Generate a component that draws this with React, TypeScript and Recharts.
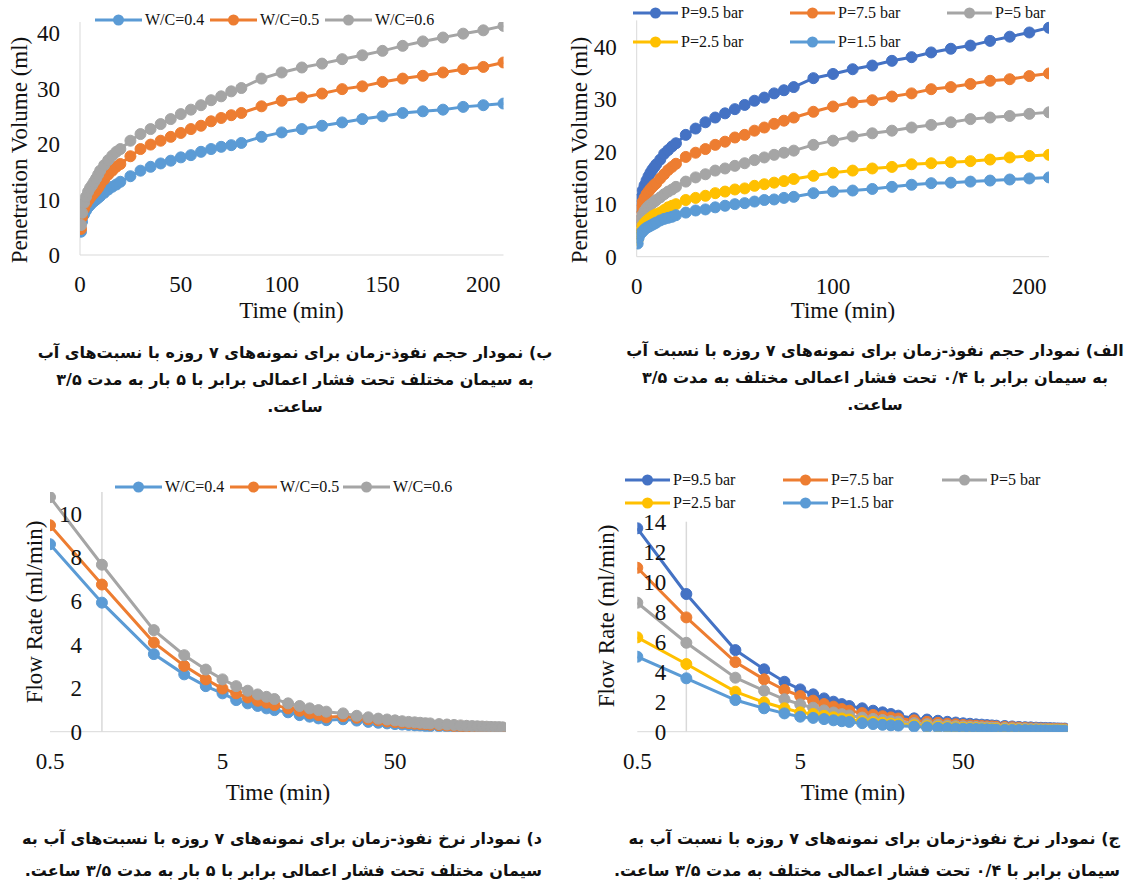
import React from "react";
import { LineChart, Line, XAxis, YAxis, ReferenceLine } from "recharts";

// sampling times (min) shared by all four panels
const timeMin = [
  0.5, 1, 2, 3, 4, 5, 6, 7, 8, 9, 10, 12, 14, 16, 18, 20, 25, 30, 35, 40, 45,
  50, 55, 60, 65, 70, 75, 80, 90, 100, 110, 120, 130, 140, 150, 160, 170, 180,
  190, 200, 210,
];

const wcNames = ["W/C=0.4", "W/C=0.5", "W/C=0.6"];
const wcColors = ["#5B9BD5", "#ED7D31", "#A5A5A5"];
const pNames = ["P=9.5 bar", "P=7.5 bar", "P=5 bar", "P=2.5 bar", "P=1.5 bar"];
const pColors = ["#4472C4", "#ED7D31", "#A5A5A5", "#FFC000", "#5B9BD5"];

// penetration volume (ml), W/C series at 5 bar
const volWc04 = [4.2, 6.0, 7.3, 8.0, 8.6, 9.0, 9.4, 9.7, 10.0, 10.3, 10.6, 11.2, 11.8, 12.3, 12.7, 13.2, 14.2, 15.2, 15.9, 16.5, 17.0, 17.6, 18.0, 18.6, 19.1, 19.5, 19.8, 20.2, 21.3, 22.1, 22.7, 23.3, 23.9, 24.5, 25.0, 25.6, 25.9, 26.2, 26.7, 27.0, 27.3];
const volWc05 = [4.7, 6.8, 8.3, 9.2, 9.8, 10.3, 10.8, 11.2, 11.6, 12.1, 12.7, 13.6, 14.5, 15.2, 15.9, 16.4, 17.8, 19.1, 19.9, 20.6, 21.3, 22.0, 22.7, 23.3, 24.1, 24.7, 25.2, 25.6, 26.8, 27.8, 28.4, 29.1, 29.9, 30.4, 31.2, 31.8, 32.3, 32.9, 33.5, 33.9, 34.7];
const volWc06 = [5.4, 7.6, 9.4, 10.5, 11.4, 12.1, 12.6, 13.2, 13.8, 14.5, 15.2, 16.2, 17.1, 17.9, 18.6, 19.1, 20.6, 21.8, 22.7, 23.6, 24.5, 25.4, 26.2, 27.0, 27.9, 28.6, 29.5, 30.1, 31.8, 32.9, 33.8, 34.5, 35.3, 36.0, 36.8, 37.7, 38.5, 39.2, 39.9, 40.5, 41.3];

// penetration volume (ml), pressure series at W/C 0.4
const volP95 = [6.8, 9.3, 11.2, 12.6, 13.6, 14.5, 15.3, 16.0, 16.6, 17.1, 17.6, 18.5, 19.6, 20.3, 21.0, 21.6, 23.2, 24.4, 25.6, 26.5, 27.3, 28.1, 28.9, 29.7, 30.3, 31.1, 31.7, 32.3, 34.0, 34.8, 35.7, 36.4, 37.3, 38.0, 38.9, 39.6, 40.2, 41.1, 41.9, 42.7, 43.6];
const volP75 = [5.5, 7.6, 9.2, 10.4, 11.2, 11.9, 12.4, 12.9, 13.3, 13.7, 14.0, 14.9, 15.7, 16.5, 17.1, 17.7, 19.0, 19.8, 20.5, 21.3, 21.9, 22.7, 23.2, 24.0, 24.6, 25.3, 25.9, 26.5, 27.6, 28.6, 29.4, 29.8, 30.5, 31.1, 31.9, 32.3, 32.9, 33.5, 33.8, 34.4, 34.9];
const volP5 = [4.3, 6.0, 7.2, 8.0, 8.7, 9.2, 9.6, 9.9, 10.2, 10.5, 10.8, 11.3, 11.9, 12.4, 12.8, 13.3, 14.3, 15.1, 15.7, 16.4, 16.8, 17.3, 17.8, 18.4, 18.9, 19.4, 19.8, 20.2, 21.3, 22.1, 22.9, 23.5, 24.0, 24.6, 25.1, 25.6, 26.2, 26.5, 26.8, 27.2, 27.5];
const volP25 = [3.2, 4.4, 5.3, 5.9, 6.4, 6.8, 7.1, 7.4, 7.7, 7.9, 8.1, 8.4, 8.9, 9.4, 9.7, 10.0, 10.8, 11.2, 11.6, 12.1, 12.4, 12.8, 13.0, 13.5, 13.8, 14.1, 14.4, 14.8, 15.4, 16.0, 16.4, 16.8, 17.1, 17.6, 17.8, 18.0, 18.2, 18.5, 18.9, 19.2, 19.4];
const volP15 = [2.5, 3.6, 4.4, 4.8, 5.2, 5.5, 5.7, 5.9, 6.1, 6.3, 6.5, 6.9, 7.2, 7.4, 7.6, 7.9, 8.4, 8.8, 9.0, 9.4, 9.7, 10.0, 10.2, 10.5, 10.8, 10.9, 11.2, 11.4, 12.1, 12.4, 12.6, 12.9, 13.3, 13.7, 14.0, 14.1, 14.3, 14.5, 14.7, 14.9, 15.1];

// flow rate (ml/min), W/C series
const rateWc04 = [8.6, 5.92, 3.56, 2.63, 2.09, 1.76, 1.45, 1.3, 1.18, 1.07, 0.99, 0.89, 0.76, 0.69, 0.61, 0.53, 0.57, 0.51, 0.45, 0.41, 0.38, 0.35, 0.33, 0.31, 0.29, 0.28, 0.26, 0.25, 0.24, 0.22, 0.21, 0.19, 0.18, 0.17, 0.17, 0.16, 0.15, 0.15, 0.14, 0.14, 0.13];
const rateWc05 = [9.47, 6.75, 4.09, 3.02, 2.4, 1.98, 1.76, 1.57, 1.42, 1.33, 1.22, 1.07, 0.96, 0.84, 0.76, 0.66, 0.71, 0.64, 0.57, 0.52, 0.47, 0.44, 0.41, 0.39, 0.37, 0.35, 0.34, 0.32, 0.3, 0.28, 0.26, 0.24, 0.23, 0.22, 0.21, 0.2, 0.19, 0.18, 0.18, 0.17, 0.17];
const rateWc06 = [10.76, 7.66, 4.66, 3.51, 2.85, 2.4, 2.09, 1.88, 1.71, 1.6, 1.5, 1.3, 1.18, 1.07, 0.99, 0.92, 0.84, 0.73, 0.66, 0.6, 0.56, 0.52, 0.48, 0.45, 0.43, 0.41, 0.39, 0.38, 0.35, 0.33, 0.31, 0.29, 0.27, 0.26, 0.25, 0.24, 0.23, 0.22, 0.21, 0.21, 0.2];

// flow rate (ml/min), pressure series
const rateP95 = [13.56, 9.18, 5.44, 4.16, 3.33, 2.82, 2.49, 2.22, 2.0, 1.84, 1.71, 1.56, 1.4, 1.29, 1.18, 1.07, 0.89, 0.81, 0.73, 0.66, 0.61, 0.56, 0.53, 0.49, 0.47, 0.44, 0.42, 0.4, 0.38, 0.35, 0.32, 0.3, 0.29, 0.27, 0.26, 0.25, 0.24, 0.23, 0.22, 0.21, 0.21];
const rateP75 = [10.93, 7.62, 4.64, 3.49, 2.78, 2.38, 2.07, 1.84, 1.67, 1.51, 1.4, 1.24, 1.12, 1.03, 0.95, 0.88, 0.76, 0.66, 0.59, 0.53, 0.49, 0.45, 0.42, 0.4, 0.38, 0.36, 0.35, 0.33, 0.31, 0.29, 0.27, 0.25, 0.23, 0.22, 0.21, 0.2, 0.19, 0.19, 0.18, 0.17, 0.17];
const rateP5 = [8.6, 5.93, 3.6, 2.73, 2.16, 1.82, 1.6, 1.42, 1.28, 1.17, 1.08, 0.94, 0.85, 0.78, 0.71, 0.67, 0.57, 0.5, 0.45, 0.41, 0.37, 0.35, 0.32, 0.31, 0.29, 0.28, 0.26, 0.25, 0.24, 0.22, 0.21, 0.2, 0.18, 0.18, 0.17, 0.16, 0.15, 0.15, 0.14, 0.14, 0.13];
const rateP25 = [6.29, 4.51, 2.67, 1.96, 1.56, 1.29, 1.18, 1.06, 0.96, 0.88, 0.81, 0.7, 0.64, 0.59, 0.54, 0.5, 0.43, 0.37, 0.33, 0.3, 0.28, 0.26, 0.24, 0.23, 0.21, 0.2, 0.19, 0.19, 0.17, 0.16, 0.15, 0.14, 0.13, 0.13, 0.12, 0.11, 0.11, 0.1, 0.1, 0.1, 0.09];
const rateP15 = [5.0, 3.56, 2.11, 1.56, 1.22, 1.0, 0.92, 0.84, 0.76, 0.7, 0.65, 0.57, 0.51, 0.46, 0.42, 0.4, 0.34, 0.29, 0.26, 0.24, 0.22, 0.2, 0.19, 0.18, 0.17, 0.16, 0.15, 0.14, 0.13, 0.12, 0.11, 0.11, 0.1, 0.1, 0.09, 0.09, 0.08, 0.08, 0.08, 0.07, 0.07];

const axisGray = "#D9D9D9";
const serif = "Liberation Serif, Times New Roman, serif";
const tickStyle = { fill: "#111", fontSize: 23, fontFamily: serif };

const build = (series: number[][]) =>
  timeMin.map((t, i) => {
    const row: Record<string, number> = { t };
    series.forEach((s, k) => (row["s" + k] = s[i]));
    return row;
  });

type PanelProps = {
  left: number;
  top: number;
  width: number;
  height: number;
  margin: { top: number; right: number; bottom: number; left: number };
  yWidth: number;
  data: Record<string, number>[];
  names: string[];
  colors: string[];
  log?: boolean;
  xDomain: [number, number];
  xTicks: number[];
  yDomain: [number, number];
  yTicks: number[];
  yTickMargin: number;
};

function Panel(p: PanelProps) {
  return (
    <div style={{ position: "absolute", left: p.left, top: p.top, fontFamily: serif }}>
      <LineChart width={p.width} height={p.height} data={p.data} margin={p.margin}>
        <XAxis
          dataKey="t"
          type="number"
          scale={p.log ? "log" : "linear"}
          domain={p.xDomain}
          ticks={p.xTicks}
          interval={0}
          allowDataOverflow
          height={60}
          axisLine={{ stroke: axisGray }}
          tickLine={false}
          tickSize={0}
          tickMargin={21}
          tick={tickStyle}
        />
        <YAxis
          type="number"
          domain={p.yDomain}
          ticks={p.yTicks}
          interval={0}
          allowDataOverflow
          width={p.yWidth}
          axisLine={p.log ? false : { stroke: axisGray }}
          tickLine={false}
          tickSize={0}
          tickMargin={p.yTickMargin}
          tick={tickStyle}
        />
        {p.log && <ReferenceLine x={1} stroke={axisGray} strokeWidth={1.5} />}
        {p.names.map((n, k) => (
          <Line
            key={n}
            type="linear"
            dataKey={"s" + k}
            name={n}
            stroke={p.colors[k]}
            strokeWidth={3}
            dot={{ r: 5.5, fill: p.colors[k], stroke: p.colors[k], strokeWidth: 1 }}
            activeDot={false}
            isAnimationActive={false}
          />
        ))}
      </LineChart>
    </div>
  );
}

function LegendItem({ x, y, name, color, len }: { x: number; y: number; name: string; color: string; len: number }) {
  return (
    <div style={{ position: "absolute", left: x, top: y - 10, height: 20, display: "flex", alignItems: "center", whiteSpace: "nowrap" }}>
      <svg width={len} height={14}>
        <line x1={0} y1={7} x2={len} y2={7} stroke={color} strokeWidth={3} />
        <circle cx={len / 2} cy={7} r={5.5} fill={color} />
      </svg>
      <span style={{ marginLeft: 3, fontFamily: serif, fontSize: 16, color: "#111", lineHeight: "20px" }}>{name}</span>
    </div>
  );
}

const captionStyle: React.CSSProperties = {
  position: "absolute",
  direction: "rtl",
  fontFamily: "DejaVu Sans, sans-serif",
  fontWeight: "bold",
  fontSize: 16,
  lineHeight: "32px",
  color: "#111",
  whiteSpace: "nowrap",
};

const titleStyle = { fontFamily: serif, fontSize: 23, fill: "#111" };

export default function App() {
  return (
    <div style={{ position: "absolute", left: 0, top: 0, width: 1146, height: 892, background: "#fff", overflow: "hidden" }}>
      <Panel
        left={0} top={0} width={520} height={320}
        margin={{ top: 22, right: 16.5, bottom: 5, left: 0 }}
        yWidth={80}
        data={build([volWc04, volWc05, volWc06])}
        names={wcNames} colors={wcColors}
        xDomain={[0, 210]} xTicks={[0, 50, 100, 150, 200]}
        yDomain={[0, 42]} yTicks={[0, 10, 20, 30, 40]}
        yTickMargin={20}
      />
      <Panel
        left={570} top={0} width={576} height={320}
        margin={{ top: 20.4, right: 97, bottom: 3.3, left: 0 }}
        yWidth={66.7}
        data={build([volP95, volP75, volP5, volP25, volP15])}
        names={pNames} colors={pColors}
        xDomain={[0, 210]} xTicks={[0, 100, 200]}
        yDomain={[0, 45]} yTicks={[0, 10, 20, 30, 40]}
        yTickMargin={20}
      />
      <Panel
        left={0} top={470} width={560} height={340}
        margin={{ top: 21.9, right: 54, bottom: 18.3, left: 0 }}
        yWidth={50}
        data={build([rateWc04, rateWc05, rateWc06])}
        names={wcNames} colors={wcColors}
        log
        xDomain={[0.5, 220]} xTicks={[0.5, 5, 50]}
        yDomain={[0, 11]} yTicks={[0, 2, 4, 6, 8, 10]}
        yTickMargin={-32}
      />
      <Panel
        left={590} top={460} width={556} height={350}
        margin={{ top: 61.7, right: 78, bottom: 18.3, left: 0 }}
        yWidth={47.3}
        data={build([rateP95, rateP75, rateP5, rateP25, rateP15])}
        names={pNames} colors={pColors}
        log
        xDomain={[0.5, 220]} xTicks={[0.5, 5, 50]}
        yDomain={[0, 14]} yTicks={[0, 2, 4, 6, 8, 10, 12, 14]}
        yTickMargin={-29}
      />

      {/* axis titles */}
      <svg width={1146} height={892} style={{ position: "absolute", left: 0, top: 0, pointerEvents: "none" }}>
        <text x={291.5} y={318} textAnchor="middle" style={titleStyle}>Time (min)</text>
        <text transform="translate(27,150) rotate(-90)" textAnchor="middle" style={titleStyle}>Penetration Volume (ml)</text>
        <text x={843} y={318} textAnchor="middle" style={titleStyle}>Time (min)</text>
        <text transform="translate(587,150) rotate(-90)" textAnchor="middle" style={titleStyle}>Penetration Volume (ml)</text>
        <text x={278} y={800} textAnchor="middle" style={titleStyle}>Time (min)</text>
        <text transform="translate(42,612) rotate(-90)" textAnchor="middle" style={titleStyle}>Flow Rate (ml/min)</text>
        <text x={853} y={800} textAnchor="middle" style={titleStyle}>Time (min)</text>
        <text transform="translate(614,616) rotate(-90)" textAnchor="middle" style={titleStyle}>Flow Rate (ml/min)</text>
      </svg>

      {/* legends */}
      {[95, 210, 325].map((x, k) => (
        <LegendItem key={"tl" + k} x={x} y={20} len={47} name={wcNames[k]} color={wcColors[k]} />
      ))}
      {[
        [633, 12.7], [790, 12.7], [947, 12.7], [633, 41.7], [790, 41.7],
      ].map(([x, y], k) => (
        <LegendItem key={"tr" + k} x={x} y={y} len={45} name={pNames[k]} color={pColors[k]} />
      ))}
      {[115, 230, 343].map((x, k) => (
        <LegendItem key={"bl" + k} x={x} y={487} len={47} name={wcNames[k]} color={wcColors[k]} />
      ))}
      {[
        [625, 480], [783, 480], [942, 480], [625, 503.3], [783, 503.3],
      ].map(([x, y], k) => (
        <LegendItem key={"br" + k} x={x} y={y} len={45} name={pNames[k]} color={pColors[k]} />
      ))}

      {/* captions */}
      <div style={{ ...captionStyle, left: 0, width: 590, top: 339, lineHeight: "27px", textAlign: "center" }}>
        <div>ب) نمودار حجم نفوذ-زمان برای نمونه‌های ۷ روزه با نسبت‌های آب</div>
        <div>به سیمان مختلف تحت فشار اعمالی برابر با ۵ بار به مدت ۳/۵</div>
        <div>ساعت.</div>
      </div>
      <div style={{ ...captionStyle, left: 575, width: 600, top: 337, lineHeight: "27px", textAlign: "center" }}>
        <div>الف) نمودار حجم نفوذ-زمان برای نمونه‌های ۷ روزه با نسبت آب</div>
        <div>به سیمان برابر با ۰/۴ تحت فشار اعمالی مختلف به مدت ۳/۵</div>
        <div>ساعت.</div>
      </div>
      <div style={{ ...captionStyle, left: 0, width: 542, top: 823, textAlign: "right" }}>
        <div>د) نمودار نرخ نفوذ-زمان برای نمونه‌های ۷ روزه با نسبت‌های آب به</div>
        <div>سیمان مختلف تحت فشار اعمالی برابر با ۵ بار به مدت ۳/۵ ساعت.</div>
      </div>
      <div style={{ ...captionStyle, left: 575, width: 545, top: 823, textAlign: "right" }}>
        <div>ج) نمودار نرخ نفوذ-زمان برای نمونه‌های ۷ روزه با نسبت آب به</div>
        <div>سیمان برابر با ۰/۴ تحت فشار اعمالی مختلف به مدت ۳/۵ ساعت.</div>
      </div>
    </div>
  );
}
